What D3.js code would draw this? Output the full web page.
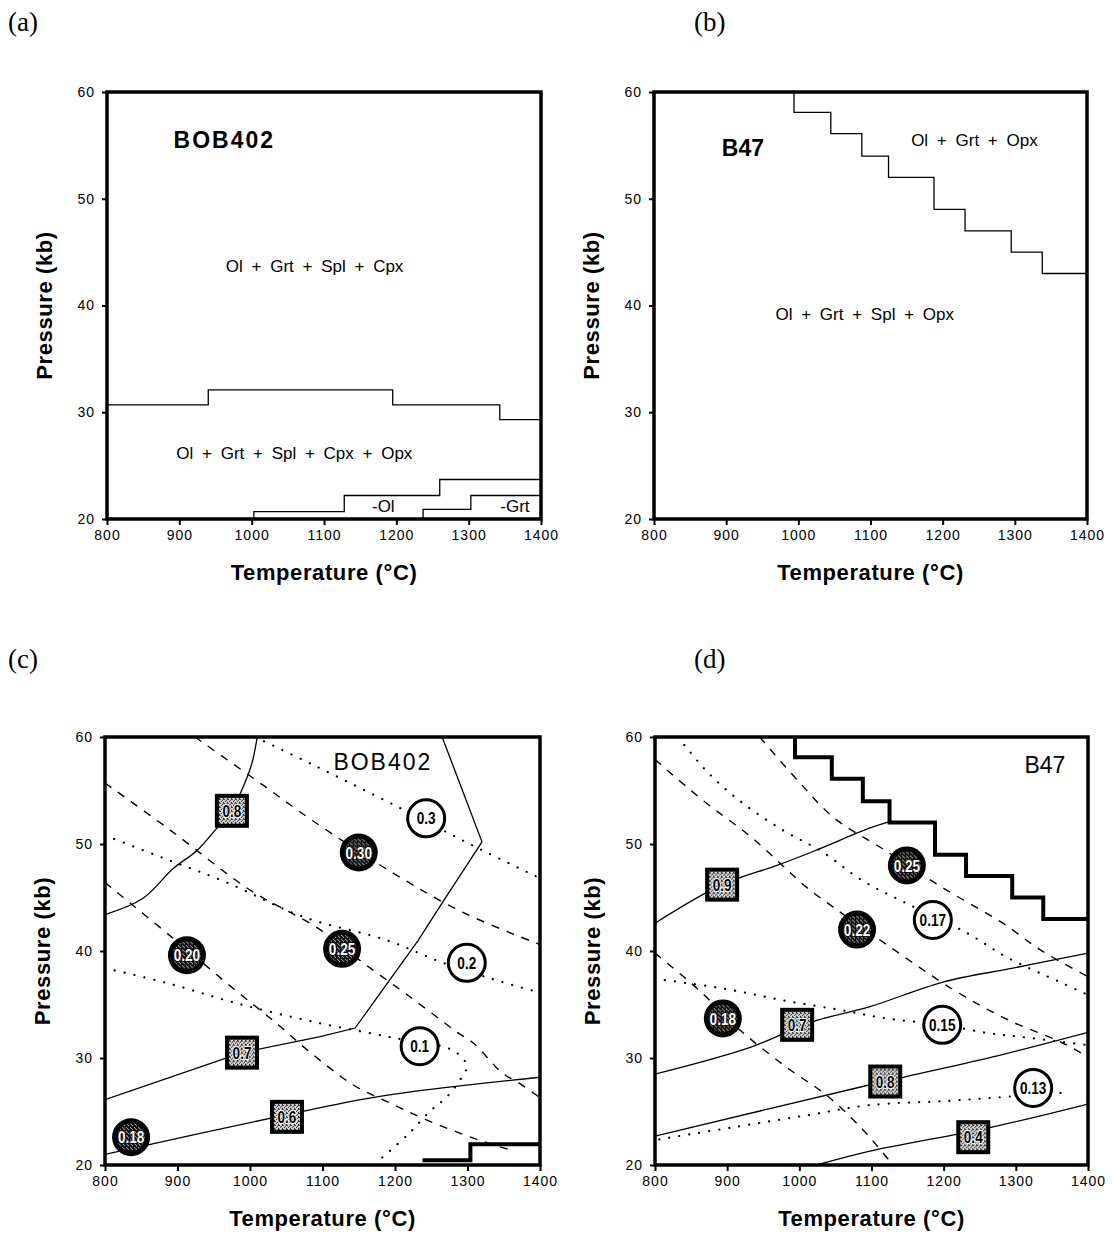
<!DOCTYPE html>
<html>
<head>
<meta charset="utf-8">
<script src="https://cdn.jsdelivr.net/npm/d3@7"></script>
<style>
  html, body { margin: 0; padding: 0; background: #fff; }
  svg { display: block; }
  text { fill: #000; }
</style>
</head>
<body>
<svg id="fig" width="1113" height="1236"></svg>
<script>
// ---- axis ticks ----
const tempTicks = [800, 900, 1000, 1100, 1200, 1300, 1400];
const presTicks = [20, 30, 40, 50, 60];

// ---- (a) BOB402 phase boundaries (T °C, P kb), step form ----
const aOpxOut = [[800, 30.7], [940, 32.1], [1195, 30.7], [1343, 29.3], [1400, 29.3]];
const aOlOut  = [[1003, 20], [1003, 20.7], [1128, 22.2], [1260, 23.7], [1400, 23.7]];
const aGrtOut = [[1237, 20], [1237, 20.9], [1303, 22.2], [1400, 22.2]];

// ---- (b) B47 spinel-out boundary ----
const bSplOut = [[994, 60], [994, 58.1], [1045, 56.1], [1088, 54], [1125, 52], [1188, 49],
                 [1231, 47], [1295, 45], [1338, 43], [1400, 43]];

// ---- (c) BOB402 contours ----
const cSolid1 = [[800, 43.4], [852, 44.9], [894, 47.7], [927, 49.4], [952, 51.3], [975, 53.2],
                 [997, 56.4], [1004, 57.9], [1010, 60]];
const cSolid2 = [[800, 26.1], [989, 30.5], [1097, 32.0], [1145, 32.8], [1232, 41.0], [1266, 44.6],
                 [1320, 50.2], [1265, 60]];
const cSolid3 = [[800, 21.0], [1037, 24.5], [1177, 26.4], [1400, 28.2]];
const cGrtOut = [[1238, 20.45], [1304, 21.95], [1400, 21.95]];
const cDashA = [[924, 60], [1018, 55.5], [1086, 52.2], [1197, 47.3], [1294, 43.6], [1400, 40.6]];
const cDashB = [[800, 55.7], [890, 51.3], [1000, 45.7], [1092, 42.2], [1156, 38.9], [1221, 35.7],
                [1286, 32.4], [1308, 31.4], [1348, 28.6], [1370, 27.7], [1400, 26.3]];
const cDashC = [[800, 46.4], [892, 41.3], [977, 36.5], [1039, 33.1], [1080, 30.7], [1142, 27.5],
                [1193, 25.8], [1244, 24.2], [1317, 22.3], [1360, 21.4]];
const cDot1 = [[1007, 60], [1087, 57.4], [1203, 53.5], [1306, 49.9], [1400, 46.8]];
const cDot2 = [[800, 50.8], [880, 48.7], [968, 46.4], [1073, 43.2], [1189, 41.0], [1262, 39.0],
               [1338, 37.3], [1400, 36.1]];
const cDot3 = [[800, 38.4], [886, 37.0], [977, 35.2], [1086, 33.4], [1197, 31.9], [1280, 30.7],
               [1299, 29.3], [1292, 28.2], [1272, 26.4], [1248, 25.0], [1217, 22.8], [1179, 20.5]];
const cFilled = [{t: 836, p: 22.6, v: "0.18"}, {t: 913, p: 39.6, v: "0.20"},
                 {t: 1127, p: 40.2, v: "0.25"}, {t: 1150, p: 49.2, v: "0.30"}];
const cOpen = [{t: 1243, p: 52.4, v: "0.3"}, {t: 1299, p: 38.9, v: "0.2"}, {t: 1234, p: 31.1, v: "0.1"}];
const cSquare = [{t: 975, p: 53.1, v: "0.8"}, {t: 989, p: 30.5, v: "0.7"}, {t: 1051, p: 24.5, v: "0.6"}];

// ---- (d) B47 contours ----
const dSolid1 = [[800, 42.6], [893, 46.2], [969, 48.0], [1019, 49.3], [1098, 51.5], [1125, 52.1]];
const dSolid2 = [[800, 28.5], [932, 31.0], [1019, 33.4], [1098, 34.8], [1199, 37.1], [1296, 38.4], [1400, 39.8]];
const dSolid3 = [[800, 22.7], [1098, 27.5], [1144, 28.2], [1268, 30.1], [1400, 32.4]];
const dSolid4 = [[1024, 20], [1098, 21.3], [1264, 23.5], [1400, 25.7]];
const dDashA = [[945, 60], [997, 56.0], [1047, 52.5], [1119, 49.4], [1199, 45.9], [1282, 42.6],
                [1334, 40.1], [1400, 37.6]];
const dDashB = [[800, 57.9], [866, 54.1], [934, 50.6], [1011, 45.9], [1047, 44.1], [1121, 40.6],
                [1213, 36.4], [1288, 33.6], [1365, 31.4], [1400, 30.1]];
const dDashC = [[800, 39.8], [860, 36.4], [918, 32.6], [983, 29.1], [1038, 26.5], [1088, 23.3], [1126, 20.3]];
const dDot1 = [[832, 60], [873, 56.7], [922, 53.8], [977, 51.3], [1031, 49.3], [1087, 46.6], [1144, 44.6],
               [1232, 41.7], [1288, 39.4], [1361, 37.1], [1400, 35.9]];
const dDot2 = [[800, 37.4], [894, 36.5], [977, 35.4], [1056, 34.5], [1121, 33.7], [1198, 33.1],
               [1264, 32.3], [1316, 31.9], [1400, 31.2]];
const dDot3 = [[806, 22.4], [915, 23.6], [1015, 24.7], [1098, 25.6], [1209, 26.0], [1292, 26.4], [1375, 26.8]];
const dFilled = [{t: 1149, p: 48.0, v: "0.25"}, {t: 1080, p: 42.0, v: "0.22"}, {t: 894, p: 33.7, v: "0.18"}];
const dOpen = [{t: 1185, p: 42.9, v: "0.17"}, {t: 1198, p: 33.1, v: "0.15"}, {t: 1324, p: 27.2, v: "0.13"}];
const dSquare = [{t: 893, p: 46.2, v: "0.9"}, {t: 997, p: 33.1, v: "0.7"},
                 {t: 1119, p: 27.8, v: "0.8"}, {t: 1241, p: 22.6, v: "0.4"}];

const SANS = "'Liberation Sans', Arial, Helvetica, sans-serif";
const SERIF = "'Liberation Serif', 'Times New Roman', serif";

const svg = d3.select("#fig");
const defs = svg.append("defs");

// grainy light-grey fill used in the squares
const pLight = defs.append("pattern").attr("id", "stipLight")
  .attr("width", 4).attr("height", 4).attr("patternUnits", "userSpaceOnUse");
pLight.append("rect").attr("width", 4).attr("height", 4).attr("fill", "#d6d6d6");
[[0, 0], [2, 1], [1, 2], [3, 3], [3, 0]].forEach(([px, py]) =>
  pLight.append("rect").attr("x", px).attr("y", py).attr("width", 1).attr("height", 1).attr("fill", "#222"));

// grainy dark fill used inside the solid circles
const pDark = defs.append("pattern").attr("id", "stipDark")
  .attr("width", 4).attr("height", 4).attr("patternUnits", "userSpaceOnUse");
pDark.append("rect").attr("width", 4).attr("height", 4).attr("fill", "#111");
[[1, 0], [3, 2], [0, 3]].forEach(([px, py]) =>
  pDark.append("rect").attr("x", px).attr("y", py).attr("width", 1).attr("height", 1).attr("fill", "#bbb"));

function panel(id, box) {
  const x = d3.scaleLinear().domain([800, 1400]).range([box.x0, box.x1]);
  const y = d3.scaleLinear().domain([20, 60]).range([box.y1, box.y0]);
  const g = svg.append("g").attr("class", "panel-" + id);

  defs.append("clipPath").attr("id", "clip-" + id)
    .append("rect").attr("x", box.x0).attr("y", box.y0)
    .attr("width", box.x1 - box.x0).attr("height", box.y1 - box.y0);

  const plot = g.append("g").attr("clip-path", `url(#clip-${id})`);

  // axes
  const xAxis = g.append("g").attr("transform", `translate(0,${box.y1})`)
    .call(d3.axisBottom(x).tickValues(tempTicks).tickSize(6).tickPadding(5).tickFormat(d3.format("d")));
  const yAxis = g.append("g").attr("transform", `translate(${box.x0},0)`)
    .call(d3.axisLeft(y).tickValues(presTicks).tickSize(5).tickPadding(7).tickFormat(d3.format("d")));
  [xAxis, yAxis].forEach(a => {
    a.select(".domain").remove();
    a.selectAll(".tick line").attr("stroke", "#000").attr("stroke-width", 2);
    a.selectAll(".tick text").attr("font-family", SANS).attr("font-size", 14)
      .attr("letter-spacing", 1).attr("fill", "#000");
  });

  // frame
  g.append("rect").attr("x", box.x0).attr("y", box.y0)
    .attr("width", box.x1 - box.x0).attr("height", box.y1 - box.y0)
    .attr("fill", "none").attr("stroke", "#000").attr("stroke-width", 3.5);

  // axis titles
  g.append("text")
    .attr("x", (box.x0 + box.x1) / 2).attr("y", box.y1 + 61)
    .attr("text-anchor", "middle").attr("font-family", SANS).attr("font-weight", "bold")
    .attr("font-size", 22).attr("letter-spacing", 0.6)
    .text("Temperature (°C)");
  g.append("text")
    .attr("transform", `translate(${box.x0 - 55},${(box.y0 + box.y1) / 2}) rotate(-90)`)
    .attr("text-anchor", "middle").attr("font-family", SANS).attr("font-weight", "bold")
    .attr("font-size", 22).attr("letter-spacing", 0.6)
    .text("Pressure (kb)");

  // panel letter
  g.append("text").attr("x", box.lx).attr("y", box.ly)
    .attr("font-family", SERIF).attr("font-size", 27).text(box.letter);

  return {x, y, g, plot};
}

const lineStyles = {
  solid:  {w: 1.3, dash: null},
  dashed: {w: 1.4, dash: "8,8"},
  dotted: {w: 2.2, dash: "0.1,10"},
  thick:  {w: 4,   dash: null}
};

function drawLine(p, pts, style, curve) {
  const s = lineStyles[style];
  const gen = d3.line().x(d => p.x(d[0])).y(d => p.y(d[1])).curve(curve || d3.curveLinear);
  p.plot.append("path").datum(pts).attr("d", gen)
    .attr("fill", "none").attr("stroke", "#000").attr("stroke-width", s.w)
    .attr("stroke-dasharray", s.dash).attr("stroke-linecap", style === "dotted" ? "round" : "butt")
    .attr("stroke-linejoin", "miter");
}

function label(p, t, pv, txt, opts) {
  p.g.append("text").attr("x", p.x(t)).attr("y", p.y(pv)).attr("dy", "0.36em")
    .attr("text-anchor", opts.anchor || "middle")
    .attr("font-family", SANS).attr("font-size", opts.size || 17)
    .attr("font-weight", opts.bold ? "bold" : "normal")
    .attr("letter-spacing", opts.ls || 0).attr("word-spacing", opts.ws || 0)
    .text(txt);
}

// condensed bold value text used inside the markers
function valueText(sel) {
  return sel.append("text").attr("text-anchor", "middle").attr("dy", "0.36em")
    .attr("transform", "scale(0.8,1)")
    .attr("font-family", SANS).attr("font-weight", "bold").attr("font-size", 17)
    .text(d => d.v);
}

function markers(p, filled, open, squares) {
  const layer = p.g.append("g");
  // open circles
  const o = layer.selectAll("g.open").data(open).join("g").attr("class", "open")
    .attr("transform", d => `translate(${p.x(d.t)},${p.y(d.p)})`);
  o.append("circle").attr("r", 18.5).attr("fill", "#fff").attr("stroke", "#000").attr("stroke-width", 3);
  valueText(o);
  // solid circles
  const f = layer.selectAll("g.filled").data(filled).join("g").attr("class", "filled")
    .attr("transform", d => `translate(${p.x(d.t)},${p.y(d.p)})`);
  f.append("circle").attr("r", 19).attr("fill", "#000");
  f.append("circle").attr("r", 14).attr("fill", "url(#stipDark)");
  valueText(f).attr("stroke", "#000").attr("stroke-width", 1.5)
    .attr("paint-order", "stroke").style("fill", "#fff");
  // squares
  const s = layer.selectAll("g.sq").data(squares).join("g").attr("class", "sq")
    .attr("transform", d => `translate(${p.x(d.t)},${p.y(d.p)})`);
  s.append("rect").attr("x", -15).attr("y", -15).attr("width", 30).attr("height", 30)
    .attr("fill", "url(#stipLight)").attr("stroke", "#000").attr("stroke-width", 4);
  valueText(s).attr("stroke", "#fff").attr("stroke-width", 2).attr("paint-order", "stroke");
}

// ---------- (a) ----------
const pa = panel("a", {x0: 107, x1: 541, y0: 92, y1: 519, letter: "(a)", lx: 8, ly: 31});
drawLine(pa, aOpxOut, "solid", d3.curveStepAfter);
drawLine(pa, aOlOut, "solid", d3.curveStepAfter);
drawLine(pa, aGrtOut, "solid", d3.curveStepAfter);
label(pa, 892, 55.5, "BOB402", {anchor: "start", bold: true, size: 23, ls: 2});
label(pa, 1087, 43.7, "Ol + Grt + Spl + Cpx", {size: 17, ws: 4});
label(pa, 1059, 26.2, "Ol + Grt + Spl + Cpx + Opx", {size: 17, ws: 4});
label(pa, 1182, 21.2, "-Ol", {size: 17});
label(pa, 1364, 21.2, "-Grt", {size: 17});

// ---------- (b) ----------
const pb = panel("b", {x0: 654, x1: 1087, y0: 92, y1: 519, letter: "(b)", lx: 694, ly: 31});
drawLine(pb, bSplOut, "solid", d3.curveStepAfter);
label(pb, 894, 54.8, "B47", {anchor: "start", bold: true, size: 23});
label(pb, 1244, 55.5, "Ol + Grt + Opx", {size: 17, ws: 4});
label(pb, 1092, 39.2, "Ol + Grt + Spl + Opx", {size: 17, ws: 4});

// ---------- (c) ----------
const pc = panel("c", {x0: 105, x1: 540, y0: 737, y1: 1165, letter: "(c)", lx: 8, ly: 668});
drawLine(pc, cDot1, "dotted", d3.curveCatmullRom);
drawLine(pc, cDot2, "dotted", d3.curveCatmullRom);
drawLine(pc, cDot3, "dotted", d3.curveCatmullRom);
drawLine(pc, cDashA, "dashed", d3.curveCatmullRom);
drawLine(pc, cDashB, "dashed", d3.curveCatmullRom);
drawLine(pc, cDashC, "dashed", d3.curveCatmullRom);
drawLine(pc, cSolid1, "solid", d3.curveCatmullRom);
drawLine(pc, cSolid2, "solid", d3.curveLinear);
drawLine(pc, cSolid3, "solid", d3.curveCatmullRom);
drawLine(pc, cGrtOut, "thick", d3.curveStepAfter);
label(pc, 1115, 57.7, "BOB402", {anchor: "start", size: 23, ls: 2});
markers(pc, cFilled, cOpen, cSquare);

// ---------- (d) ----------
const pd = panel("d", {x0: 655, x1: 1088, y0: 737, y1: 1165, letter: "(d)", lx: 694, ly: 668});
drawLine(pd, dDot1, "dotted", d3.curveCatmullRom);
drawLine(pd, dDot2, "dotted", d3.curveCatmullRom);
drawLine(pd, dDot3, "dotted", d3.curveCatmullRom);
drawLine(pd, dDashA, "dashed", d3.curveCatmullRom);
drawLine(pd, dDashB, "dashed", d3.curveCatmullRom);
drawLine(pd, dDashC, "dashed", d3.curveCatmullRom);
drawLine(pd, dSolid1, "solid", d3.curveCatmullRom);
drawLine(pd, dSolid2, "solid", d3.curveCatmullRom);
drawLine(pd, dSolid3, "solid", d3.curveCatmullRom);
drawLine(pd, dSolid4, "solid", d3.curveCatmullRom);
drawLine(pd, bSplOut, "thick", d3.curveStepAfter);
label(pd, 1312, 57.4, "B47", {anchor: "start", size: 23});
markers(pd, dFilled, dOpen, dSquare);
</script>
</body>
</html>
